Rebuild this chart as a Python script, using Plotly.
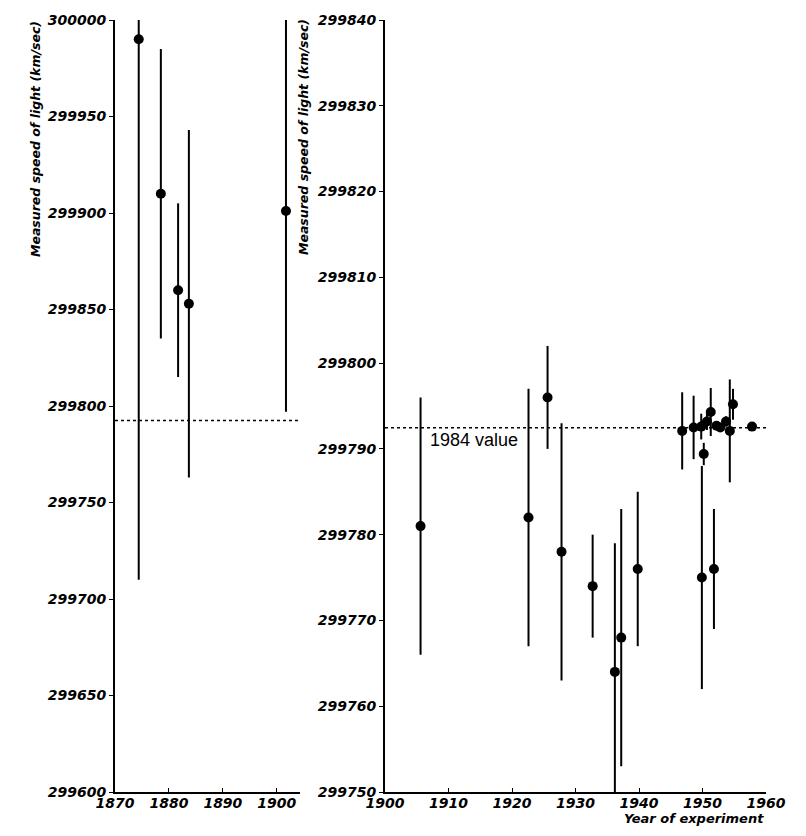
import plotly.graph_objects as go

# Early measurements (left panel)
early_year = [1874.4, 1878.5, 1881.7, 1883.7, 1901.7]
early_speed = [299990, 299910, 299860, 299853, 299901]
early_err = [280, 75, 45, 90, 104]

# Later measurements (right panel)
late_year = [1905.6, 1922.6, 1925.6, 1927.8, 1932.7, 1936.2, 1937.2, 1939.8,
             1946.8, 1948.6, 1949.8, 1949.9, 1950.2, 1950.7, 1951.3, 1951.8,
             1952.2, 1952.8, 1953.7, 1954.3, 1954.8, 1957.8]
late_speed = [299781, 299782, 299796, 299778, 299774, 299764, 299768, 299776,
              299792.1, 299792.5, 299792.6, 299775, 299789.4, 299793.2, 299794.3, 299776,
              299792.7, 299792.5, 299793.2, 299792.1, 299795.2, 299792.6]
late_err = [15, 15, 6, 15, 6, 15, 15, 9,
            4.5, 3.7, 1.5, 13, 1.3, 1.0, 2.8, 7,
            0.5, 0.5, 0.6, 6, 1.8, 0.3]

value_1984 = 299792.458

early_yticks = [299600, 299650, 299700, 299750, 299800, 299850, 299900, 299950, 300000]
late_yticks = [299750, 299760, 299770, 299780, 299790, 299800, 299810, 299820, 299830, 299840]
early_xticks = [1870, 1880, 1890, 1900]
late_xticks = [1900, 1910, 1920, 1930, 1940, 1950, 1960]

# page body adds an 8px margin, so work in window pixels minus that
OFF = 8
W, H = 806 - 2 * OFF, 836 - 2 * OFF


def px_x(p):
    return (p - OFF) / W


def px_y(p):
    return 1 - (p - OFF) / H


BOLD = "DejaVu Sans, Verdana, sans-serif"
tickfont = dict(family=BOLD, size=14, color="black", weight="bold", style="italic")

fig = go.Figure()

fig.add_trace(go.Scatter(
    x=early_year, y=early_speed, mode="markers",
    marker=dict(color="black", size=10),
    error_y=dict(type="data", array=early_err, color="black", thickness=2, width=0),
    xaxis="x", yaxis="y", cliponaxis=True, showlegend=False))

fig.add_trace(go.Scatter(
    x=late_year, y=late_speed, mode="markers",
    marker=dict(color="black", size=10),
    error_y=dict(type="data", array=late_err, color="black", thickness=2, width=0),
    xaxis="x2", yaxis="y2", cliponaxis=True, showlegend=False))

# 1984 reference value, dotted across both panels
for xr, yr in [("x domain", "y"), ("x2 domain", "y2")]:
    fig.add_shape(type="line", xref=xr, yref=yr, x0=0, x1=1, y0=value_1984, y1=value_1984,
                  line=dict(color="black", width=1.5, dash="dot"), layer="below")

axis_common = dict(showgrid=False, zeroline=False, showline=True, linecolor="black",
                   linewidth=2, tickfont=tickfont, tickcolor="black", ticklen=4,
                   tickformat="d", automargin=False)

y_dom = [px_y(792), px_y(20)]

fig.update_layout(
    width=W, height=H,
    margin=dict(l=0, r=0, t=0, b=0),
    plot_bgcolor="white", paper_bgcolor="white",
    xaxis=dict(domain=[px_x(115), px_x(300)], range=[1870, 1904.3], tickvals=early_xticks,
               ticks="inside", anchor="y", ticklabelstandoff=-3, **axis_common),
    yaxis=dict(domain=y_dom, range=[299600, 300000], tickvals=early_yticks,
               ticks="outside", anchor="x", **axis_common),
    xaxis2=dict(domain=[px_x(385), px_x(766)], range=[1900, 1960], tickvals=late_xticks,
                ticks="inside", anchor="y2", ticklabelstandoff=-3, **axis_common),
    yaxis2=dict(domain=y_dom, range=[299750, 299840], tickvals=late_yticks,
                ticks="outside", anchor="x2", **axis_common),
)

title_font = dict(family=BOLD, size=12.5, color="black", weight="bold", style="italic")

fig.add_annotation(text="Measured speed of light (km/sec)", xref="paper", yref="paper",
                   x=px_x(35), y=px_y(19), xanchor="center", yanchor="top",
                   textangle=-90, showarrow=False, font=title_font)
fig.add_annotation(text="Measured speed of light (km/sec)", xref="paper", yref="paper",
                   x=px_x(303), y=px_y(17), xanchor="center", yanchor="top",
                   textangle=-90, showarrow=False, font=title_font)
fig.add_annotation(text="Year of experiment", xref="paper", yref="paper",
                   x=px_x(766), y=px_y(818), xanchor="right", yanchor="middle",
                   showarrow=False, font=dict(family=BOLD, size=13, color="black",
                                              weight="bold", style="italic"))
fig.add_annotation(text="1984 value", xref="x2", yref="y2", x=1906.8, y=299791.0,
                   xanchor="left", yanchor="middle", showarrow=False,
                   font=dict(family="Liberation Sans, Arial, sans-serif", size=18, color="black"))

fig.write_html("out.html")
